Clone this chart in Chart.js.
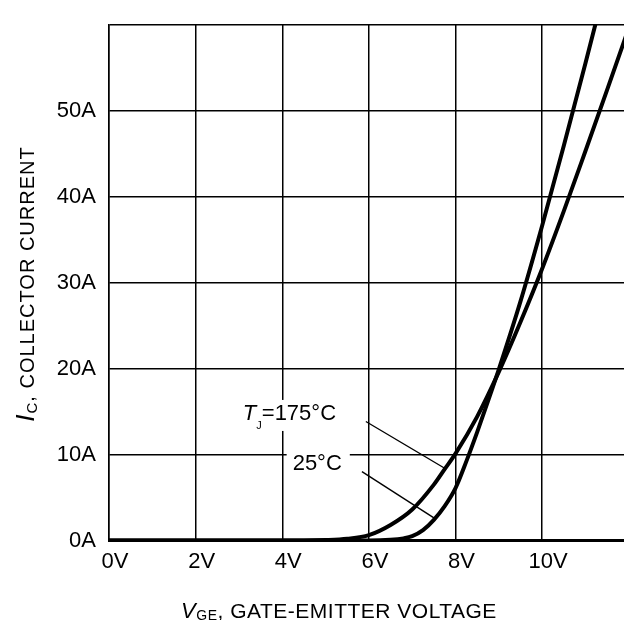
<!DOCTYPE html>
<html>
<head>
<meta charset="utf-8">
<script src="https://cdn.jsdelivr.net/npm/chart.js@4.4.0/dist/chart.umd.min.js"></script>
<style>
html, body { margin: 0; padding: 0; background: #fff; }
</style>
</head>
<body>
<canvas id="chartTransfer" width="624" height="620"></canvas>
<script>
// axis ticks
const voltTicks = [0, 2, 4, 6, 8, 10];
const voltLabels = ['0V', '2V', '4V', '6V', '8V', '10V'];
const currentTicks = [0, 10, 20, 30, 40, 50, 60];
const currentLabels = ['0A', '10A', '20A', '30A', '40A', '50A', ''];

// Tj = 25°C
const vge25 = [0, 6.0, 6.5, 6.8, 7.0, 7.25, 7.5, 7.75, 8.0, 8.25, 8.5, 8.75, 9.0, 9.5, 10.0, 10.5, 11.0, 11.35];
const ic25 = [0, 0, 0.08, 0.25, 0.5, 1.2, 2.4, 4.0, 6.1, 9.2, 12.6, 16.2, 19.9, 27.8, 36.6, 45.9, 55.5, 62.4];

// Tj = 175°C
const vge175 = [0, 4.5, 5.0, 5.5, 6.0, 6.5, 7.0, 7.5, 7.75, 8.0, 8.5, 9.0, 9.5, 10.0, 10.5, 11.0, 11.5, 12.0];
const ic175 = [0, 0, 0.05, 0.2, 0.62, 1.8, 3.6, 6.5, 8.3, 10.1, 14.4, 19.6, 25.4, 31.6, 38.3, 45.3, 52.4, 59.6];

// leader lines from the labels to the curves (V, A)
const leader175 = { v: [5.93, 7.75], a: [13.84, 8.4] };
const leader25 = { v: [5.84, 7.51], a: [8.0, 2.6] };

const FONT = "'Liberation Sans', Arial, Helvetica, sans-serif";

function toPoints(xs, ys) {
    return xs.map(function (x, i) { return { x: x, y: ys[i] }; });
}

// curve labels: left edge and baseline in data units
const notes = [
    {
        v: 3.09, a: 14.02,
        runs: [
            { text: 'T', font: 'italic 22px ' + FONT },
            { text: 'J', font: '11px ' + FONT, dy: 9 },
            { text: '=175°C', font: '22px ' + FONT }
        ]
    },
    {
        v: 4.24, a: 8.2,
        runs: [
            { text: '25°C', font: '22px ' + FONT }
        ]
    }
];

function runsWidth(ctx, runs) {
    let w = 0;
    runs.forEach(function (r) {
        ctx.font = r.font;
        w += ctx.measureText(r.text).width;
    });
    return w;
}

function drawRuns(ctx, runs, x, baseline) {
    let cx = x;
    runs.forEach(function (r) {
        ctx.font = r.font;
        ctx.fillText(r.text, cx, baseline + (r.dy || 0));
        cx += ctx.measureText(r.text).width;
    });
}

const textPlugin = {
    id: 'textPlugin',
    afterDraw(chart) {
        const ctx = chart.ctx;
        const xs = chart.scales.x;
        const ys = chart.scales.y;
        ctx.save();
        ctx.fillStyle = '#000';
        ctx.textAlign = 'left';
        ctx.textBaseline = 'alphabetic';

        // curve labels with white backing
        notes.forEach(function (n) {
            const px = xs.getPixelForValue(n.v);
            const py = ys.getPixelForValue(n.a);
            const w = runsWidth(ctx, n.runs);
            ctx.fillStyle = '#fff';
            ctx.fillRect(px - 6, py - 20, w + 14, 31);
            ctx.fillStyle = '#000';
            drawRuns(ctx, n.runs, px, py);
        });

        // x axis title
        ctx.letterSpacing = '0.5px';
        const xTitle = [
            { text: 'V', font: 'italic 22px ' + FONT },
            { text: 'GE', font: '14px ' + FONT, dy: 2 },
            { text: ', GATE-EMITTER VOLTAGE', font: '21px ' + FONT }
        ];
        const xw = runsWidth(ctx, xTitle);
        drawRuns(ctx, xTitle, 339 - xw / 2, 618);

        // y axis title (rotated)
        ctx.letterSpacing = '1px';
        const yTitle = [
            { text: 'I', font: 'italic 26px ' + FONT },
            { text: 'C', font: '15px ' + FONT, dy: 3 },
            { text: ', COLLECTOR CURRENT', font: '20px ' + FONT }
        ];
        ctx.translate(27, 284);
        ctx.rotate(-Math.PI / 2);
        const yw = runsWidth(ctx, yTitle);
        drawRuns(ctx, yTitle, -yw / 2, 7);
        ctx.restore();
    }
};

const curveStyle = {
    borderColor: '#000',
    borderWidth: 4,
    pointRadius: 0,
    fill: false,
    cubicInterpolationMode: 'monotone'
};

const leaderStyle = {
    borderColor: '#000',
    borderWidth: 1.4,
    pointRadius: 0,
    fill: false
};

const chart = new Chart(document.getElementById('chartTransfer'), {
    type: 'line',
    data: {
        datasets: [
            Object.assign({ label: 'Tj=25°C', data: toPoints(vge25, ic25) }, curveStyle),
            Object.assign({ label: 'Tj=175°C', data: toPoints(vge175, ic175) }, curveStyle),
            Object.assign({ label: 'leader175', data: toPoints(leader175.v, leader175.a) }, leaderStyle),
            Object.assign({ label: 'leader25', data: toPoints(leader25.v, leader25.a) }, leaderStyle)
        ]
    },
    options: {
        responsive: false,
        animation: false,
        devicePixelRatio: 1,
        layout: {
            padding: { top: 12, right: 0, bottom: 0, left: 0 }
        },
        plugins: {
            legend: { display: false },
            tooltip: { enabled: false }
        },
        scales: {
            x: {
                type: 'linear',
                min: 0,
                max: 11.89,
                afterBuildTicks: function (scale) {
                    scale.ticks = voltTicks.map(function (v) { return { value: v }; });
                },
                afterFit: function (scale) {
                    scale.height = 79.5;
                },
                ticks: {
                    color: '#000',
                    font: { family: FONT, size: 22, lineHeight: 1.05 },
                    padding: 10,
                    labelOffset: 6,
                    maxRotation: 0,
                    callback: function (value) {
                        const i = voltTicks.indexOf(value);
                        return i >= 0 ? voltLabels[i] : '';
                    }
                },
                grid: { color: '#000', lineWidth: 1.5, drawTicks: false },
                border: { display: true, color: '#000', width: 3 }
            },
            y: {
                type: 'linear',
                min: 0,
                max: 60,
                afterBuildTicks: function (scale) {
                    scale.ticks = currentTicks.map(function (v) { return { value: v }; });
                },
                afterFit: function (scale) {
                    scale.width = 109;
                },
                ticks: {
                    color: '#000',
                    font: { family: FONT, size: 22, lineHeight: 1.05 },
                    padding: 13,
                    callback: function (value) {
                        const i = currentTicks.indexOf(value);
                        return i >= 0 ? currentLabels[i] : '';
                    }
                },
                grid: { color: '#000', lineWidth: 1.5, drawTicks: false },
                border: { display: true, color: '#000', width: 1.5 }
            }
        }
    },
    plugins: [textPlugin]
});
</script>
</body>
</html>
